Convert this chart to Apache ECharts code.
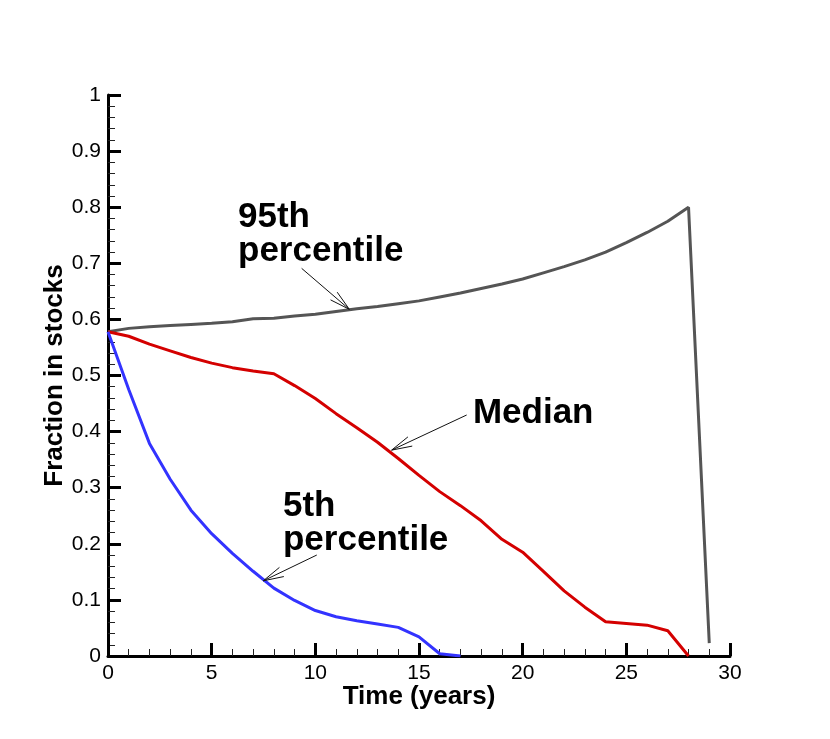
<!DOCTYPE html>
<html>
<head>
<meta charset="utf-8">
<script src="https://cdn.jsdelivr.net/npm/echarts@6/dist/echarts.min.js"></script>
<style>html,body{margin:0;padding:0;background:#fff;}#c{width:830px;height:739px;}</style>
</head>
<body>
<div id="c"></div>
<script>
// Data (years, fraction in stocks)
var years95 = [0,1,2,3,4,5,6,7,8,9,10,11,12,13,14,15,16,17,18,19,20,21,22,23,24,25,26,27,28,29];
var p95 = [0.578,0.584,0.587,0.589,0.591,0.593,0.596,0.601,0.602,0.606,0.609,0.614,0.619,0.623,0.628,0.633,0.640,0.647,0.655,0.663,0.672,0.683,0.694,0.706,0.720,0.737,0.755,0.775,0.800,0.023];
var yearsMed = [0,1,2,3,4,5,6,7,8,9,10,11,12,13,14,15,16,17,18,19,20,21,22,23,24,25,26,27,28];
var median = [0.578,0.570,0.556,0.544,0.532,0.522,0.514,0.508,0.503,0.482,0.459,0.432,0.407,0.381,0.352,0.322,0.293,0.268,0.241,0.208,0.185,0.151,0.116,0.087,0.061,0.058,0.055,0.045,0.0];
var years5 = [0,1,2,3,4,5,6,7,8,9,10,11,12,13,14,15,16,17];
var p5 = [0.578,0.475,0.379,0.315,0.260,0.218,0.183,0.151,0.121,0.099,0.081,0.070,0.063,0.057,0.051,0.034,0.004,0.0];

// Annotations in data coordinates: text anchor (left/top), arrow tail -> head
var annoTexts = ["95th\npercentile", "Median", "5th\npercentile"];
var annoTextPos = [[6.27,0.813],[17.6,0.4635],[8.44,0.2977]];
var arrowTail = [[9.34,0.691],[17.3,0.4296],[10.07,0.180]];
var arrowHead = [[11.64,0.618],[13.68,0.367],[7.49,0.134]];

function pairs(xs, ys){ return xs.map(function(x,i){ return [x, ys[i]]; }); }

var FONT = '"Liberation Sans", Arial, Helvetica, sans-serif';
var chart = echarts.init(document.getElementById('c'));
var axisCommon = {
  nameMoveOverlap: false,
  axisLine: {show:true, onZero:false, lineStyle:{color:'#000', width:3}},
  axisTick: {show:true, inside:true, length:13, lineStyle:{color:'#000', width:3}},
  minorTick: {show:true, splitNumber:5, length:7, lineStyle:{color:'#222', width:1}},
  splitLine: {show:false},
  axisLabel: {color:'#000', fontSize:21, fontFamily:FONT, margin:7},
  nameTextStyle: {color:'#000', fontSize:26, fontWeight:'bold', fontFamily:FONT}
};
chart.setOption({
  animation:false,
  backgroundColor:'#fff',
  grid:{left:108, right:100, top:95, bottom:83, containLabel:false},
  xAxis: Object.assign({type:'value', min:0, max:30, interval:5, name:'Time (years)', nameLocation:'middle', nameGap:28}, axisCommon),
  yAxis: Object.assign({type:'value', min:0, max:1, interval:0.1, name:'Fraction in stocks', nameLocation:'middle', nameGap:40}, axisCommon),
  series:[
    {name:'95th percentile', type:'line', data:pairs(years95,p95), showSymbol:false, symbol:'none', lineStyle:{color:'#555555', width:3}, z:3},
    {name:'Median', type:'line', data:pairs(yearsMed,median), showSymbol:false, symbol:'none', lineStyle:{color:'#d40000', width:3}, z:4},
    {name:'5th percentile', type:'line', data:pairs(years5,p5), showSymbol:false, symbol:'none', lineStyle:{color:'#3333ff', width:3}, z:5}
  ]
});

function drawAnno(){
  var g = [];
  for (var i=0;i<annoTexts.length;i++){
    var tp = chart.convertToPixel({gridIndex:0}, annoTextPos[i]);
    g.push({type:'text', left:tp[0], top:tp[1], z:10, style:{text:annoTexts[i], fill:'#000', font:'bold 35px '+FONT, lineHeight:34}});
    var a = chart.convertToPixel({gridIndex:0}, arrowTail[i]);
    var b = chart.convertToPixel({gridIndex:0}, arrowHead[i]);
    var ang = Math.atan2(a[1]-b[1], a[0]-b[0]);
    var L = 21, h = 14*Math.PI/180;
    var b1 = [b[0]+L*Math.cos(ang+h), b[1]+L*Math.sin(ang+h)];
    var b2 = [b[0]+L*Math.cos(ang-h), b[1]+L*Math.sin(ang-h)];
    g.push({type:'line', z:10, shape:{x1:a[0],y1:a[1],x2:b[0],y2:b[1]}, style:{stroke:'#111', lineWidth:1}});
    g.push({type:'polyline', z:10, shape:{points:[b1,b,b2]}, style:{stroke:'#111', lineWidth:1, fill:null}});
  }
  chart.setOption({graphic:g});
}
drawAnno();
</script>
</body>
</html>
